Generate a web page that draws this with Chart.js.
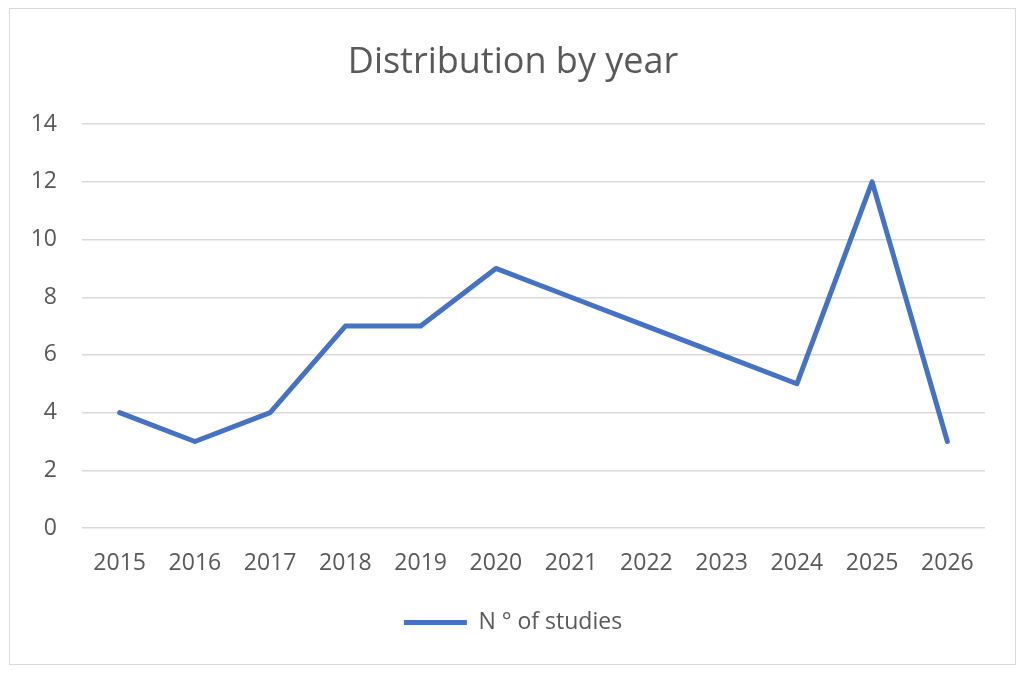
<!DOCTYPE html>
<html>
<head>
<meta charset="utf-8">
<script src="https://cdn.jsdelivr.net/npm/chart.js@4"></script>
<style>
  html, body { margin: 0; padding: 0; background: #fff; }
  #wrap { position: relative; width: 1026px; height: 676px; }
  #frame { position: absolute; left: 9px; top: 8px; width: 1007px; height: 657px; border: 1.5px solid #d9d9d9; box-sizing: border-box; }
  canvas { position: absolute; left: 0; top: 0; }
</style>
</head>
<body>
<div id="wrap">
  <div id="frame"></div>
  <canvas id="myChart" width="1026" height="676"></canvas>
</div>
<script>
// Chart data
const years = ['2015', '2016', '2017', '2018', '2019', '2020', '2021', '2022', '2023', '2024', '2025', '2026'];
const studies = [4, 3, 4, 7, 7, 9, 8, 7, 6, 5, 12, 3];
const seriesLabel = 'N ° of studies';
const chartTitle = 'Distribution by year';

const textColor = '#595959';
const fontName = "'Open Sans', sans-serif";

const ctx = document.getElementById("myChart").getContext("2d");

const myChart = new Chart(ctx, {
    type: 'line',
    data: {
        labels: years,
        datasets: [
            {
                label: seriesLabel,
                data: studies,
                borderColor: '#4472C4',
                backgroundColor: '#4472C4',
                borderWidth: 5,
                borderCapStyle: 'round',
                borderJoinStyle: 'round',
                pointRadius: 0,
                tension: 0
            }
        ]
    },
    options: {
        responsive: false,
        animation: false,
        layout: { padding: { left: 0, right: 0, top: 0, bottom: 32 } },
        plugins: {
            title: {
                display: true,
                text: chartTitle,
                color: textColor,
                font: { family: fontName, size: 36, weight: 'normal', lineHeight: 1.2 },
                padding: { top: 41, bottom: 40 }
            },
            legend: {
                position: 'bottom',
                labels: {
                    color: textColor,
                    font: { family: fontName, size: 23 },
                    usePointStyle: true,
                    pointStyle: 'line',
                    pointStyleWidth: 63,
                    padding: 10
                }
            },
            tooltip: { enabled: false }
        },
        scales: {
            x: {
                offset: true,
                grid: { display: false, drawTicks: false },
                border: { display: false },
                ticks: { color: textColor, font: { family: fontName, size: 23 }, padding: 22, maxRotation: 0 },
                afterFit: (scale) => { scale.height = 73; }
            },
            y: {
                min: 0,
                max: 14,
                grid: { color: '#d9d9d9', lineWidth: 1.5, drawTicks: false },
                border: { display: false },
                ticks: { stepSize: 2, color: textColor, font: { family: fontName, size: 23 }, padding: 25 },
                afterFit: (scale) => { scale.width = 82; }
            },
            // empty right axis, only keeps the plot clear of the right edge
            yRight: {
                position: 'right',
                grid: { display: false, drawTicks: false },
                border: { display: false },
                ticks: { display: false },
                afterFit: (scale) => { scale.width = 41; }
            }
        }
    }
});
</script>
</body>
</html>
